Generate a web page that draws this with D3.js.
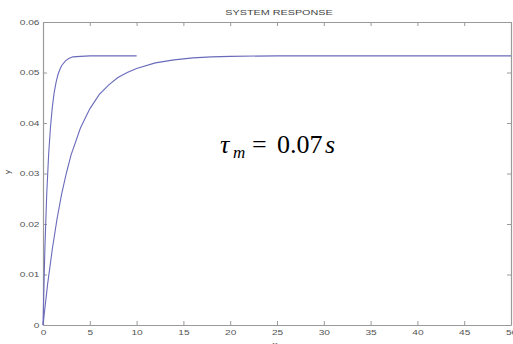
<!DOCTYPE html>
<html><head><meta charset="utf-8">
<script src="https://cdn.jsdelivr.net/npm/d3@7"></script>
<style>
html,body{margin:0;padding:0;background:#fff;overflow:hidden;}
svg{display:block;}
</style></head>
<body>
<svg id="chart" width="513" height="344"></svg>
<script>
// ---- data ----
const fastT = [0, 0.2, 0.4, 0.6, 0.8, 1.0, 1.2, 1.4, 1.6, 1.8, 2.0, 2.4, 2.8, 3.2, 4, 5, 6, 7, 8, 9, 10];
const fastY = [0, 0.0151, 0.0260, 0.0337, 0.0392, 0.0432, 0.0461, 0.0481, 0.0496, 0.0506, 0.0514, 0.0523, 0.0528, 0.0531, 0.0532, 0.0533, 0.0533, 0.0533, 0.0533, 0.0533, 0.0533];
const slowT = [0, 0.5, 1, 1.5, 2, 2.5, 3, 4, 5, 6, 7, 8, 9, 10, 12, 14, 16, 18, 20, 25, 30, 35, 40, 45, 50];
const slowY = [0, 0.0082, 0.0151, 0.0210, 0.0260, 0.0301, 0.0337, 0.0390, 0.0428, 0.0456, 0.0475, 0.0490, 0.0500, 0.0508, 0.0519, 0.0525, 0.0529, 0.0531, 0.0532, 0.0533, 0.0533, 0.0533, 0.0533, 0.0533, 0.0533];
const xTicks = [0, 5, 10, 15, 20, 25, 30, 35, 40, 45, 50];
const xTickLabels = ["0", "5", "10", "15", "20", "25", "30", "35", "40", "45", "50"];
const yTicks = [0, 0.01, 0.02, 0.03, 0.04, 0.05, 0.06];
const yTickLabels = ["0", "0.01", "0.02", "0.03", "0.04", "0.05", "0.06"];
const titleText = "SYSTEM RESPONSE";
const xLabel = "x";
const yLabel = "y";

// ---- layout ----
const L = 43, R = 511, T = 22, B = 325;
const svg = d3.select("#chart");
const x = d3.scaleLinear().domain([0, 50]).range([L, R]);
const y = d3.scaleLinear().domain([0, 0.06]).range([B, T]);
const axisColor = "#9a9a9a";
const labelColor = "#555";
const stretch = 1.35;
const sans = "'Liberation Sans', Arial, sans-serif";
const serif = "'Liberation Serif', 'Times New Roman', serif";

function styleAxis(g) {
  g.select(".domain").attr("stroke", axisColor).attr("stroke-width", 1.2);
  g.selectAll(".tick line").attr("stroke", axisColor);
  g.selectAll("text").attr("fill", labelColor)
    .style("font-family", sans).style("font-size", "7.5px");
}

// bottom
const gB = svg.append("g").attr("transform", `translate(0,${B})`)
  .call(d3.axisBottom(x).tickValues(xTicks).tickFormat((d, i) => xTickLabels[i]).tickSizeInner(-4).tickSizeOuter(0).tickPadding(5));
styleAxis(gB);
gB.selectAll("text").attr("transform", `scale(${stretch},1)`);
// top
const gT = svg.append("g").attr("transform", `translate(0,${T})`)
  .call(d3.axisTop(x).tickValues(xTicks).tickFormat("").tickSizeInner(-4).tickSizeOuter(0));
styleAxis(gT);
// left
const gL = svg.append("g").attr("transform", `translate(${L},0)`)
  .call(d3.axisLeft(y).tickValues(yTicks).tickFormat((d, i) => yTickLabels[i]).tickSizeInner(-4).tickSizeOuter(0).tickPadding(3));
styleAxis(gL);
gL.selectAll("text").attr("x", -3.5 / stretch).attr("transform", `scale(${stretch},1)`);
// right
const gR = svg.append("g").attr("transform", `translate(${R},0)`)
  .call(d3.axisRight(y).tickValues(yTicks).tickFormat("").tickSizeInner(-4).tickSizeOuter(0));
styleAxis(gR);

// curves
const line = d3.line().x(d => x(d[0])).y(d => y(d[1]));
const curveColor = "#6a6abc";
svg.append("path").datum(slowT.map((t, i) => [t, slowY[i]]))
  .attr("d", line).attr("fill", "none").attr("stroke", curveColor).attr("stroke-width", 1.1);
svg.append("path").datum(fastT.map((t, i) => [t, fastY[i]]))
  .attr("d", line).attr("fill", "none").attr("stroke", curveColor).attr("stroke-width", 1.1);

// title
svg.append("text").attr("transform", `translate(${(L + R) / 2 + 2},15) scale(${stretch},1)`)
  .attr("text-anchor", "middle").attr("fill", "#444")
  .style("font-family", sans).style("font-size", "8px")
  .text(titleText);
// x label
svg.append("text").attr("transform", `translate(275,347) scale(${stretch},1)`)
  .attr("text-anchor", "middle").attr("fill", "#444")
  .style("font-family", sans).style("font-size", "8px")
  .text(xLabel);
// y label
svg.append("text").attr("transform", `translate(10,172) rotate(-90)`)
  .attr("text-anchor", "middle").attr("fill", "#444")
  .style("font-family", sans).style("font-size", "8px")
  .text(yLabel);

// annotation tau_m = 0.07s
const ann = svg.append("text").attr("y", 153).attr("fill", "#000")
  .style("font-family", serif).style("font-size", "26px");
ann.append("tspan").attr("x", 220).style("font-style", "italic").text("τ");
ann.append("tspan").attr("x", 233).attr("dy", 5).style("font-style", "italic").style("font-size", "17px").text("m");
ann.append("tspan").attr("x", 252).attr("dy", -5).text("=");
ann.append("tspan").attr("x", 277).text("0.07");
ann.append("tspan").attr("x", 325).style("font-style", "italic").text("s");
</script>
</body></html>
